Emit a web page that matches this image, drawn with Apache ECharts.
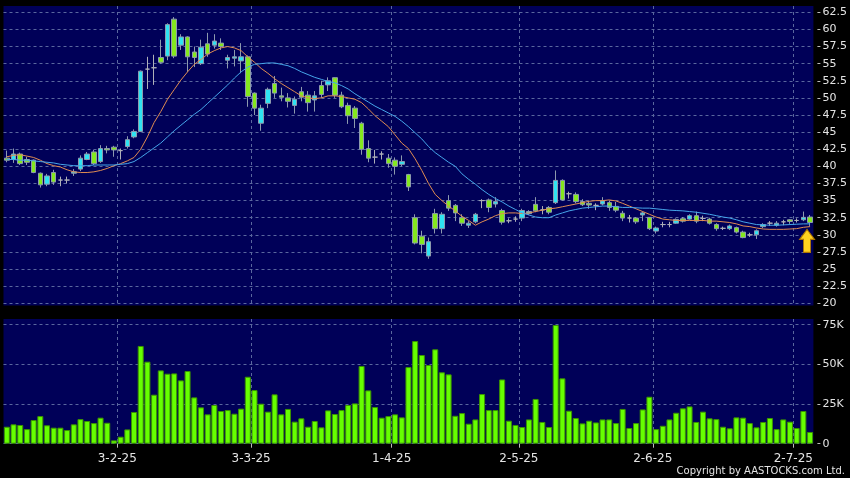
<!DOCTYPE html>
<html><head><meta charset="utf-8">
<script src="https://cdn.jsdelivr.net/npm/echarts@6/dist/echarts.min.js"></script>
<style>html,body{margin:0;padding:0;background:#000;}#c{width:850px;height:478px;}</style>
</head><body><div id="c"></div>
<script>
const dates = [
'6-1-25','7-1-25','8-1-25','9-1-25','10-1-25','13-1-25','14-1-25','15-1-25','16-1-25','17-1-25','20-1-25','21-1-25','22-1-25','23-1-25','24-1-25','27-1-25','28-1-25',
'3-2-25','4-2-25','5-2-25','6-2-25','7-2-25','10-2-25','11-2-25','12-2-25','13-2-25','14-2-25','17-2-25','18-2-25','19-2-25','20-2-25','21-2-25','24-2-25','25-2-25','26-2-25','27-2-25','28-2-25',
'3-3-25','4-3-25','5-3-25','6-3-25','7-3-25','10-3-25','11-3-25','12-3-25','13-3-25','14-3-25','17-3-25','18-3-25','19-3-25','20-3-25','21-3-25','24-3-25','25-3-25','26-3-25','27-3-25','28-3-25','31-3-25',
'1-4-25','2-4-25','3-4-25','7-4-25','8-4-25','9-4-25','10-4-25','11-4-25','14-4-25','15-4-25','16-4-25','17-4-25','22-4-25','23-4-25','24-4-25','25-4-25','28-4-25','29-4-25','30-4-25',
'2-5-25','6-5-25','7-5-25','8-5-25','9-5-25','12-5-25','13-5-25','14-5-25','15-5-25','16-5-25','19-5-25','20-5-25','21-5-25','22-5-25','23-5-25','26-5-25','27-5-25','28-5-25','29-5-25','30-5-25',
'2-6-25','3-6-25','4-6-25','5-6-25','6-6-25','9-6-25','10-6-25','11-6-25','12-6-25','13-6-25','16-6-25','17-6-25','18-6-25','19-6-25','20-6-25','23-6-25','24-6-25','25-6-25','26-6-25','27-6-25','30-6-25',
'2-7-25','3-7-25','4-7-25'];
const opens = [41.2,41.0,41.8,41.0,40.9,39.0,37.4,39.1,38.0,38.0,39.0,39.6,41.0,42.1,40.7,42.6,42.8,42.3,42.9,44.3,
45.1,54.2,54.4,55.9,56.1,61.5,57.7,58.9,56.7,55.0,57.9,57.7,58.0,55.5,55.8,55.4,56.0,50.7,46.3,49.2,
52.1,50.3,50.0,48.9,50.9,50.4,49.7,51.8,51.9,52.95,50.4,48.9,48.5,46.3,42.6,41.35,41.8,41.2,40.9,40.3,
38.8,32.5,29.8,26.9,33.1,30.9,35.0,34.3,32.5,31.4,31.9,35.0,35.1,34.5,33.55,32.05,32.3,32.45,33.1,34.45,
33.65,34.0,34.7,37.95,36.0,35.9,34.85,34.6,34.3,34.5,34.7,34.15,33.15,32.45,32.45,32.9,32.55,30.55,31.5,31.5,
31.7,32.35,32.3,32.8,32.4,32.3,31.5,30.95,30.9,31.05,30.4,30.0,30.0,31.2,31.7,31.4,31.9,32.2,32.1,32.2,32.6];
const closes = [40.9,41.8,40.4,40.6,39.1,37.3,38.6,37.7,38.0,38.0,39.2,41.2,41.8,40.4,42.6,42.4,42.4,42.3,43.9,45.1,
53.9,54.2,54.4,55.2,60.7,56.1,58.9,56.0,55.9,57.4,56.4,58.3,57.5,55.9,56.0,56.0,50.2,48.5,48.5,51.25,
50.7,50.1,49.5,49.8,50.1,49.3,50.3,50.5,52.5,50.4,48.7,47.4,47.0,42.5,41.2,41.35,41.8,40.4,40.0,40.7,
37.0,28.8,28.6,29.0,30.9,33.0,33.9,33.2,31.7,31.7,33.0,35.0,34.0,34.85,31.85,32.05,32.3,33.55,33.4,33.5,
33.65,33.3,37.95,35.1,36.0,34.85,34.4,34.35,34.3,34.95,34.0,33.6,32.45,32.45,31.9,33.2,30.9,31.0,31.5,31.5,
32.25,32.0,32.8,32.0,32.4,31.7,30.9,30.95,31.3,30.4,29.6,30.0,30.6,31.5,31.7,31.7,31.9,31.95,32.1,32.55,31.8];
const lows = [40.6,40.5,40.2,40.2,39.0,36.9,37.1,37.3,37.1,37.5,38.6,39.3,40.9,40.2,40.5,41.9,41.4,41.0,42.6,44.1,
45.0,51.3,51.9,55.0,55.5,55.8,57.0,53.8,54.5,54.8,56.0,57.2,57.0,54.3,54.6,53.6,48.7,47.5,45.2,48.5,
50.0,49.5,48.6,47.7,49.5,48.0,48.0,50.0,51.0,50.0,48.5,46.2,45.6,41.7,40.6,40.4,41.0,39.8,38.8,40.0,
36.4,28.6,27.3,26.5,30.2,30.2,33.5,32.0,31.3,31.0,31.7,33.9,33.3,34.0,31.5,31.7,31.9,32.0,32.9,33.3,
33.0,33.0,34.5,35.0,35.3,34.6,34.2,33.8,33.6,34.3,33.5,33.3,32.0,31.8,31.6,32.0,30.7,30.2,31.1,31.1,
31.6,31.8,32.2,31.7,32.0,31.5,30.6,30.7,30.7,30.2,29.5,29.7,29.4,31.0,31.3,31.2,31.4,31.6,31.8,32.0,31.3];
const highs = [42.3,42.6,42.0,41.4,41.0,39.1,38.9,39.5,38.5,38.5,39.6,41.6,42.1,42.4,43.1,43.0,43.0,42.6,44.4,45.4,
54.0,56.0,56.3,58.5,60.9,61.8,59.3,59.0,57.5,58.5,59.5,59.3,58.7,56.3,57.0,58.0,56.2,50.8,49.0,51.5,
53.2,51.5,50.7,50.2,51.6,51.0,51.0,52.5,53.0,53.0,50.9,49.3,48.8,46.5,43.8,42.4,42.2,41.8,41.3,41.6,
38.9,33.0,30.6,29.6,33.8,33.3,35.8,34.5,33.0,32.0,33.2,35.2,35.3,35.5,33.8,32.4,32.7,33.8,33.6,35.5,
34.2,34.2,39.4,38.1,36.3,36.2,35.2,35.0,34.6,35.5,35.0,34.8,33.5,32.9,32.6,33.4,32.6,31.2,31.9,31.9,
32.4,32.6,33.0,33.4,32.8,32.5,31.7,31.2,31.5,31.2,30.6,30.3,30.8,31.7,32.0,32.0,32.2,32.3,32.4,33.4,32.9];
const volumes = [10700,12200,11800,9200,14900,17400,11600,10100,10100,8600,12200,15500,14300,13000,16400,13200,2100,4400,9000,20000,
61600,51700,30900,46200,44100,44300,39900,45800,29200,22900,18500,24400,20600,21200,18900,22100,42200,33800,25200,20200,
31100,18500,21900,13900,16000,10700,14300,10300,21000,18700,21200,24400,25400,49000,33600,23100,16400,17400,18500,16600,
48300,64700,55900,49600,59500,45000,43700,17600,19300,12600,15300,31300,21200,21200,40500,14500,11800,10500,15300,28200,
13700,10500,74800,41200,20800,16200,12800,14500,13400,15300,15300,13000,21900,9900,13000,21600,29600,9200,11300,15300,
19500,22300,23500,13700,20200,16000,15500,10700,9700,16600,16400,13000,10300,13700,16200,9200,15300,13900,9900,20600,7400];
const maFast = [41.4,41.6,41.7,41.5,41.3,40.9,40.4,40.1,39.9,39.5,39.2,39.1,39.1,39.2,39.4,39.7,40.1,40.4,40.8,41.3,
42.5,44.3,46.4,48.0,49.8,51.2,52.6,53.8,54.9,55.6,56.4,56.9,57.3,57.5,57.3,56.9,56.0,55.2,54.3,53.6,
52.8,52.1,51.5,50.9,50.3,50.0,49.9,50.0,50.3,50.3,50.2,50.0,49.8,49.3,48.4,47.4,46.6,45.8,44.6,43.4,
42.6,41.1,39.4,37.5,35.9,35.0,34.2,33.5,32.7,32.1,31.4,31.9,32.3,32.8,33.1,33.2,33.2,33.1,33.2,33.4,
33.6,33.8,33.9,34.1,34.3,34.5,34.7,34.9,35.0,35.0,35.1,34.95,34.6,34.2,33.8,33.4,33.0,32.6,32.3,32.2,
32.1,32.1,32.1,32.1,32.1,32.0,32.0,31.9,31.8,31.6,31.3,31.2,31.0,30.85,30.8,30.8,30.8,30.85,30.9,31.1,31.2];
const maSlow = [41.0,41.0,40.9,40.9,40.8,40.7,40.6,40.5,40.3,40.2,40.1,40.1,40.1,40.2,40.2,40.2,40.2,40.3,40.4,40.7,
41.3,42.0,42.7,43.4,44.3,45.2,46.0,46.8,47.6,48.3,49.2,50.1,51.0,51.9,52.9,53.8,54.5,54.9,55.0,55.1,
55.1,54.9,54.7,54.3,53.8,53.4,53.0,52.7,52.4,52.2,51.8,51.3,50.6,50.0,49.4,48.8,48.3,47.8,47.3,46.6,
45.8,44.9,44.0,42.9,42.0,41.3,40.6,40.0,38.9,38.1,37.4,36.6,35.9,35.3,34.8,34.2,33.7,33.2,32.9,32.6,
32.5,32.5,32.9,33.2,33.5,33.7,33.9,34.0,34.1,34.2,34.2,34.1,34.0,34.0,33.95,33.9,33.9,33.8,33.7,33.6,
33.55,33.5,33.4,33.3,33.15,33.0,32.8,32.6,32.45,32.2,31.9,31.7,31.5,31.45,31.4,31.4,31.45,31.5,31.55,31.6,31.6];
const xTickLabels = ['3-2-25','3-3-25','1-4-25','2-5-25','2-6-25','2-7-25'];
const priceMin = 20, priceMax = 62.5, priceStep = 2.5;
const volMax = 75000, volStep = 25000;

const chart = echarts.init(document.getElementById('c'));
const L = 3.5, R = 36.6;
const NAVY = '#000058';
const GRIDC = '#5a679e';
const LABC = '#e4e4e4';
const FONT = 'DejaVu Sans';
const candleData = dates.map((d, i) => [opens[i], closes[i], lows[i], highs[i]]);
const bounds = dates.concat(['']);
const isLab = (idx, v) => xTickLabels.indexOf(v) >= 0;
const last = dates.length - 1;
const dash = {color: GRIDC, type: [3, 3], width: 1};

const option = {
  backgroundColor: '#000',
  animation: false,
  textStyle: {fontFamily: FONT},
  grid: [
    {left: L, right: R, top: 6, height: 299.5, show: true, backgroundColor: NAVY, borderWidth: 0},
    {left: L, right: R, top: 12.3, height: 291},
    {left: L, right: R, top: 319, height: 124.7, show: true, backgroundColor: NAVY, borderWidth: 0},
    {left: L, right: R, top: 324.7, height: 119}
  ],
  xAxis: [
    {gridIndex: 0, type: 'category', data: bounds, boundaryGap: false, axisLine: {show: false},
     axisTick: {show: false}, axisLabel: {show: false}, splitLine: {show: true, interval: isLab, lineStyle: dash}},
    {gridIndex: 1, type: 'category', data: dates, boundaryGap: true, show: false},
    {gridIndex: 2, type: 'category', data: bounds, boundaryGap: false, axisLine: {show: false},
     axisTick: {show: true, interval: isLab, length: 4, lineStyle: {color: '#bbb'}},
     axisLabel: {show: true, interval: isLab, color: LABC, fontSize: 12, fontFamily: FONT, margin: 9},
     splitLine: {show: true, interval: isLab, lineStyle: dash}},
    {gridIndex: 3, type: 'category', data: dates, boundaryGap: true, show: false}
  ],
  yAxis: [
    {gridIndex: 0, type: 'value', show: false},
    {gridIndex: 1, type: 'value', position: 'right', min: priceMin, max: priceMax, interval: priceStep, offset: 4,
     axisLine: {show: false}, axisTick: {show: true, length: 3, lineStyle: {color: '#bbb'}},
     axisLabel: {color: LABC, fontSize: 11, fontFamily: FONT, margin: 5},
     splitLine: {show: true, lineStyle: dash}},
    {gridIndex: 2, type: 'value', show: false},
    {gridIndex: 3, type: 'value', position: 'right', min: 0, max: volMax, interval: volStep, offset: 4,
     axisLine: {show: false}, axisTick: {show: true, length: 3, lineStyle: {color: '#bbb'}},
     axisLabel: {color: LABC, fontSize: 11, fontFamily: FONT, margin: 5,
       formatter: v => v === 0 ? '0' : (v / 1000) + 'K'},
     splitLine: {show: true, lineStyle: dash}}
  ],
  series: [
    {type: 'candlestick', xAxisIndex: 1, yAxisIndex: 1, data: candleData, barWidth: 5, z: 3,
     itemStyle: {color: '#2fe3f2', color0: '#84e81e', borderColor: '#8d9aae', borderColor0: '#8d9aae',
       borderColorDoji: '#aeb0b8', borderWidth: 1},
     markPoint: {silent: true,
       symbol: 'path://M7.5,0 L15,10 L11,10 L11,23 L4,23 L4,10 L0,10 Z',
       symbolSize: [15, 23], symbolOffset: [-3, 15],
       itemStyle: {color: '#ffd21f', borderColor: '#b07800', borderWidth: 1},
       label: {show: false},
       data: [{coord: [dates[last], lows[last]]}]}},
    {type: 'line', xAxisIndex: 1, yAxisIndex: 1, data: maFast, symbol: 'none', z: 4,
     lineStyle: {color: '#e08c52', width: 1}},
    {type: 'line', xAxisIndex: 1, yAxisIndex: 1, data: maSlow, symbol: 'none', z: 4,
     lineStyle: {color: '#46a6ea', width: 1}},
    {type: 'bar', xAxisIndex: 3, yAxisIndex: 3, data: volumes, barWidth: 6,
     itemStyle: {color: '#66ff00', borderColor: '#3c9400', borderWidth: 1}}
  ],
  graphic: [
    {type: 'text', right: 5, top: 466,
     style: {text: 'Copyright by AASTOCKS.com Ltd.', fill: LABC, font: '10px "DejaVu Sans"'}}
  ]
};
chart.setOption(option);
</script>
</body></html>
